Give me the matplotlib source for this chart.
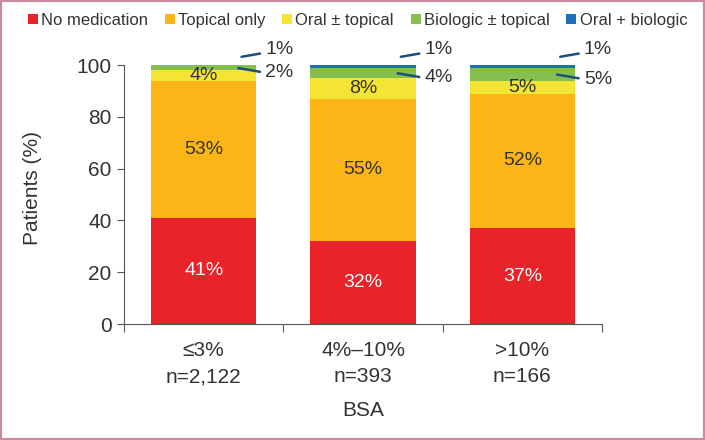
import matplotlib.pyplot as plt
import numpy as np
from matplotlib.patches import Rectangle

plt.rcParams['font.family'] = ['Liberation Sans', 'DejaVu Sans']

categories = ['≤3%\nn=2,122', '4%–10%\nn=393', '>10%\nn=166']
series = ['No medication', 'Topical only', 'Oral ± topical', 'Biologic ± topical', 'Oral + biologic']
no_med = [41, 32, 37]
topical = [53, 55, 52]
oral = [4, 8, 5]
biologic = [2, 4, 5]
oral_bio = [1, 1, 1]
colors = ['#e8232a', '#fbb517', '#f4e535', '#86be50', '#1f6fb8']

txt = '#333333'
fig = plt.figure(figsize=(7.05, 4.4), dpi=100)
ax = fig.add_axes([0.176, 0.2636, 0.678, 0.5886])

x = np.arange(len(categories))
w = 0.66
bottom = np.zeros(len(categories))
data = [no_med, topical, oral, biologic, oral_bio]
bottoms = []
for vals, c, name in zip(data, colors, series):
    ax.bar(x, vals, w, bottom=bottom, color=c, label=name, linewidth=0)
    bottoms.append(bottom.copy())
    bottom = bottom + np.array(vals)

# labels inside bars
for i in x:
    ax.text(i, bottoms[0][i] + no_med[i] / 2, f'{no_med[i]}%', ha='center', va='center',
            color='white', fontsize=14)
    ax.text(i, bottoms[1][i] + topical[i] / 2, f'{topical[i]}%', ha='center', va='center',
            color=txt, fontsize=14)
    ax.text(i, bottoms[2][i] + oral[i] / 2, f'{oral[i]}%', ha='center', va='center',
            color=txt, fontsize=14)
    # biologic callout
    gm = min(bottoms[3][i] + biologic[i] / 2, 99.6)
    ax.annotate('', xy=(i + 0.2, gm), xytext=(i + 0.37, gm - 1.8),
                arrowprops=dict(arrowstyle='-', color='#1d4f7c', lw=1.8), annotation_clip=False)
    ax.text(i + 0.385, gm - 1.9, f'{biologic[i]}%', ha='left', va='center',
            color=txt, fontsize=14, clip_on=False)
    # oral + biologic callout
    ax.annotate('', xy=(i + 0.22, 103), xytext=(i + 0.37, 104.6),
                arrowprops=dict(arrowstyle='-', color='#1d4f7c', lw=1.8), annotation_clip=False)
    ax.text(i + 0.385, 106, f'{oral_bio[i]}%', ha='left', va='center',
            color=txt, fontsize=14, clip_on=False)

ax.set_xlim(-0.5, 2.5)
ax.set_ylim(0, 100)
ax.set_yticks([0, 20, 40, 60, 80, 100])
ax.set_xticks([-0.5, 0.5, 1.5, 2.5])
ax.set_xticklabels([])
ax.set_xticks(x, minor=True)
ax.set_xticklabels(categories, minor=True, fontsize=15, color=txt, linespacing=1.5)
ax.tick_params(axis='x', which='minor', length=0, pad=12)
ax.tick_params(axis='x', which='major', length=6, color='#555555', direction='out')
ax.tick_params(axis='y', length=5, color='#555555', labelsize=15, labelcolor=txt, pad=4)
for s in ['top', 'right']:
    ax.spines[s].set_visible(False)
for s in ['left', 'bottom']:
    ax.spines[s].set_color('#555555')
ax.set_ylabel('Patients (%)', fontsize=15, color=txt)
ax.yaxis.set_label_coords(-0.172, 0.525)
ax.set_xlabel('BSA', fontsize=15, color=txt, labelpad=11)

fig.legend(loc='upper center', bbox_to_anchor=(0.507, 1.005), ncol=5, frameon=False,
           handlelength=0.6, handleheight=0.6, handletextpad=0.2, columnspacing=1.0,
           fontsize=12, labelcolor=txt)

fig.patches.append(Rectangle((0, 0), 1, 1, transform=fig.transFigure, fill=False,
                             edgecolor='#c98aa3', linewidth=3))

fig.savefig('out.png', dpi=100)
